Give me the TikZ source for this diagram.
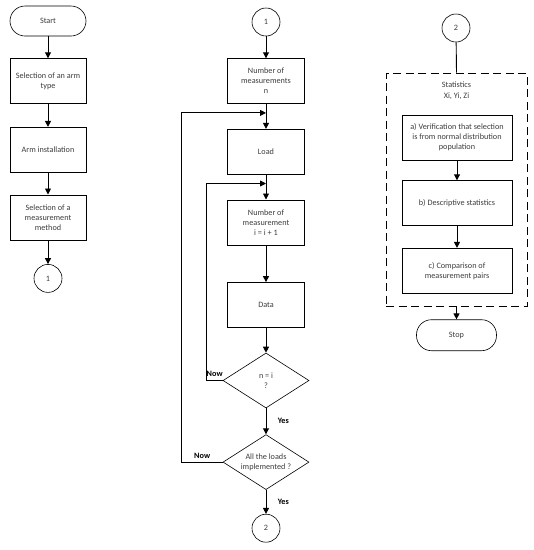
\documentclass[tikz,border=0pt]{standalone}
\usepackage{fontspec}
\setmainfont{Carlito}
\usepackage{tikz}
\usetikzlibrary{shapes.geometric, arrows.meta, positioning}
\definecolor{fctext}{RGB}{60,60,60}

\begin{document}
\begin{tikzpicture}[x=1pt, y=1pt,
  every node/.style={font=\fontsize{8.2}{10}\selectfont, text=fctext},
  term/.style={rectangle, draw, line width=0.6pt, rounded corners=15pt, minimum width=76pt, minimum height=30pt},
  proc/.style={rectangle, draw, line width=0.6pt, minimum width=76pt, minimum height=45pt, align=center, inner sep=2pt},
  wide/.style={minimum width=110pt},
  conn/.style={circle, draw, line width=0.6pt, minimum size=28pt, inner sep=0pt},
  dec/.style={diamond, draw, line width=0.6pt, minimum width=86pt, minimum height=55pt, aspect=1.56, align=center, inner sep=0pt},
  group/.style={rectangle, draw, line width=0.8pt, dash pattern=on 8pt off 4.5pt, minimum width=141pt, minimum height=233pt},
  arrow/.style={-{Triangle[length=6pt, width=6pt]}, line width=0.9pt},
  yesno/.style={font=\fontsize{8.2}{10}\selectfont\bfseries, text=black}
]
\useasboundingbox (0,0) rectangle (534,-550);

% left column
\node[term] (start) at (48,-21) {Start};
\node[proc, below=22pt of start] (armtype) {Selection of an arm\\type};
\node[proc, below=23pt of armtype] (install) {Arm installation};
\node[proc, below=22pt of install] (method) {Selection of a\\measurement\\method};
\node[conn, below=24pt of method] (c1a) {1};

\draw[arrow] (start) -- (armtype);
\draw[arrow] (armtype) -- (install);
\draw[arrow] (install) -- (method);
\draw[arrow] (method) -- (c1a);

% middle column
\node[conn] (c1b) at (266,-22) {1};
\node[proc, minimum width=77pt, below=22pt of c1b] (nmeas) {Number of\\measurements\\n};
\node[proc, minimum width=77pt, below=25pt of nmeas] (load) {Load};
\node[proc, minimum width=77pt, below=25pt of load] (imeas) {Number of\\measurement\\i = i + 1};
\node[proc, minimum width=77pt, below=37pt of imeas] (data) {Data};
\node[dec, below=25pt of data] (ni) {n = i\\?};
\node[dec, below=26pt of ni] (loads) {All the loads\\implemented ?};
\node[conn, below=24pt of loads] (c2a) {2};

\draw[arrow] (c1b) -- (nmeas);
\draw[arrow] (nmeas) -- (load);
\draw[arrow] (load) -- (imeas);
\draw[arrow] (imeas) -- (data);
\draw[arrow] (data) -- (ni);
\draw[arrow] (ni) -- (loads) node[midway, right=8pt, yesno] {Yes};
\draw[arrow] (loads) -- (c2a) node[midway, right=8pt, yesno] {Yes};
\draw[arrow] (ni.west) -- ++(-16,0) node[midway, above, yesno] {Now} |- ([yshift=-9pt]load.south);
\draw[arrow] (loads.west) -- ++(-41,0) node[midway, above, yesno] {Now} |- ([yshift=-9pt]nmeas.south);

% right column
\node[conn] (c2b) at (456,-28) {2};
\node[group] (stats) at (456.5,-189.5) {};
\node[anchor=north, align=center] (statlbl) at ([yshift=-5.5pt]stats.north) {Statistics\\[1.5pt]Xi, Yi, Zi};
\node[proc, wide] (verif) at (457,-137.5) {a) Verification that selection\\is from normal distribution\\population};
\node[proc, wide, below=20pt of verif] (descr) {b) Descriptive statistics};
\node[proc, wide, below=22pt of descr] (pairs) {c) Comparison of\\measurement pairs};
\node[term, minimum width=80pt, minimum height=31pt, below=13pt of stats] (stop) {Stop};

\draw[line width=0.9pt] (c2b) -- (stats.north);
\draw[arrow] (verif) -- (descr);
\draw[arrow] (descr) -- (pairs);
\draw[arrow] (stats.south) -- (stop);

\end{tikzpicture}
\end{document}
